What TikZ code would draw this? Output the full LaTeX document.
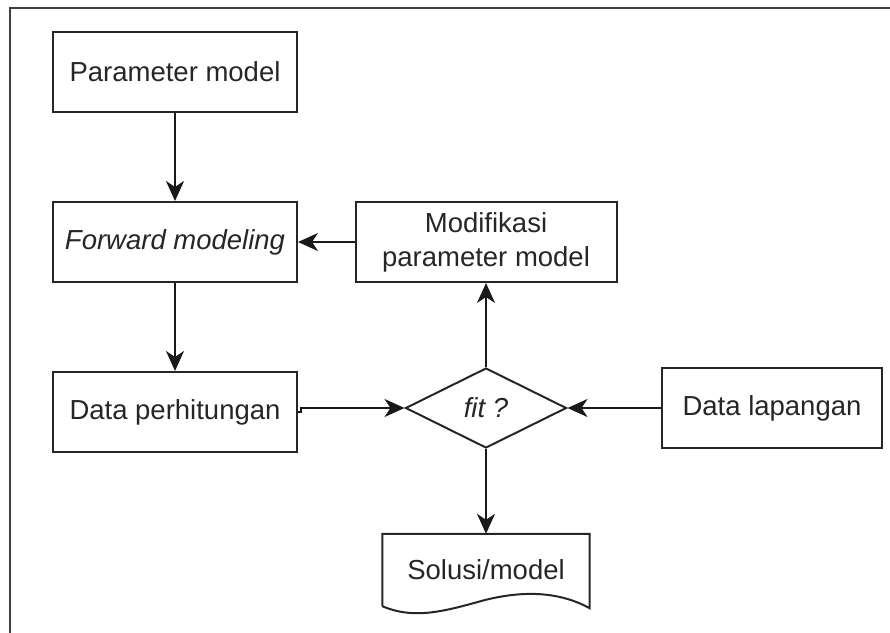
\documentclass[tikz,border=0pt]{standalone}
\usepackage{fontspec}
\setmainfont{Liberation Sans}
\usetikzlibrary{shapes.geometric,arrows.meta}
\begin{document}
\begin{tikzpicture}[x=1pt,y=-1pt,
  every node/.style={font=\fontsize{27.5}{34}\selectfont, text=black!85},
  box/.style={draw=black!85, line width=2pt, minimum width=244pt, minimum height=80pt, inner sep=0pt, align=center},
  dec/.style={draw=black!85, line width=2pt, diamond, minimum width=161pt, minimum height=80pt, inner sep=0pt},
  conn/.style={draw=black!90, line width=2pt, -{Stealth[length=20pt,width=18pt,inset=6pt]}},
  frame/.style={draw=black!75, line width=2.8pt}]
\useasboundingbox (0,0) rectangle (890,632);
\draw[frame] (10,640) -- (10,8) -- (900,8);

\node[box] (pm) at (175,72) {Parameter model};
\node[box] (fm) at (175,242) {\itshape Forward modeling};
\node[box] (dp) at (175,412) {Data perhitungan};
\node[box, minimum width=261pt] (mod) at (486,242) {Modifikasi\\parameter model};
\node[dec] (fit) at (486,408) {\itshape fit ?};
\node[box, minimum width=220pt] (dl) at (772,408) {Data lapangan};
\node[minimum width=207pt, minimum height=72pt, inner sep=0pt] (sol) at (486,570) {Solusi/model};
\draw[draw=black!85, line width=2pt]
  (sol.south west) -- (sol.north west) -- (sol.north east) -- ([yshift=-2pt]sol.south east)
  .. controls (560,592) and (525,590) .. (485,600)
  .. controls (445,611) and (415,620) .. (sol.south west);

\draw[conn] (pm) -- (fm);
\draw[conn] (fm) -- (dp);
\draw[conn] (mod) -- (fm);
\draw[conn] (fit) -- (mod);
\draw[conn] (fit) -- (sol);
\draw[conn] (dl) -- (fit);
\coordinate (jog) at (301,412);
\draw[conn] (dp.east) -- (jog) -- (jog |- fit.west) -- (fit.west);
\end{tikzpicture}
\end{document}
